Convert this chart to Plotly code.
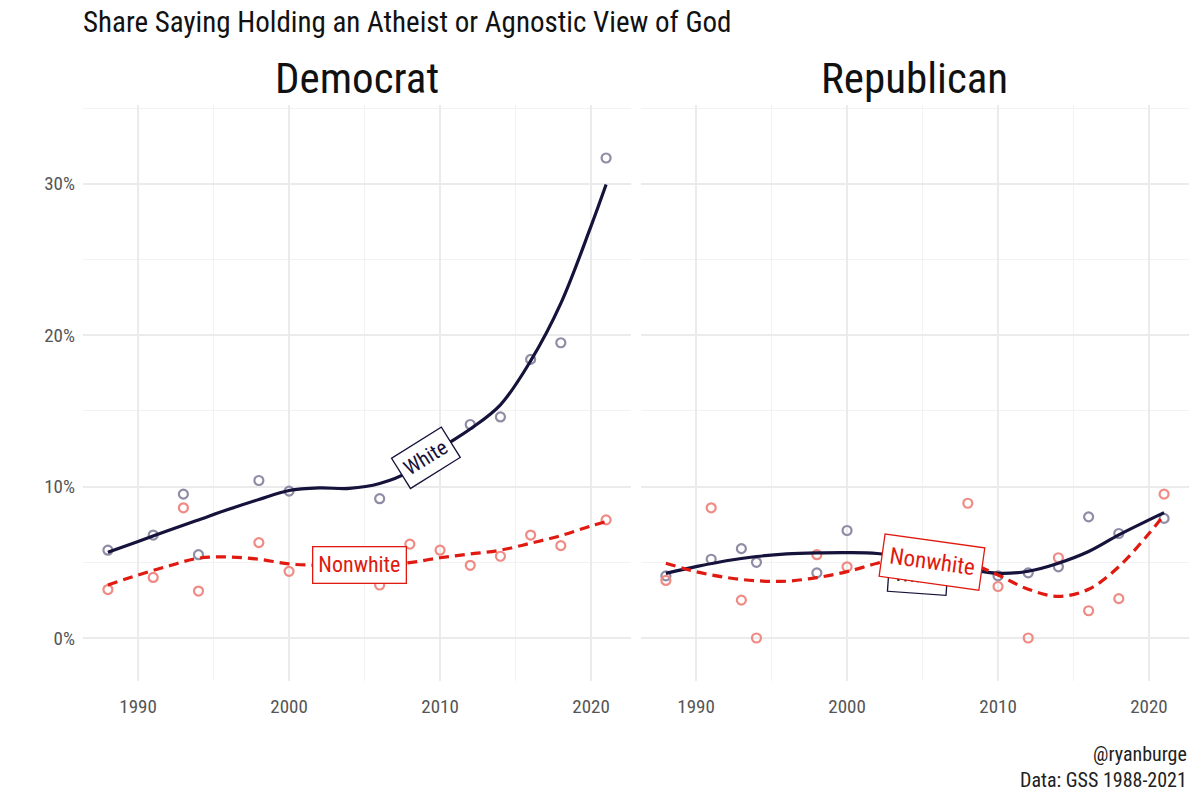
import plotly.graph_objects as go

FONT = "Liberation Sans Narrow, Arial Narrow, Roboto Condensed, DejaVu Sans Condensed, sans-serif"

NAVY = "#15123b"
RED = "#e01a10"
NAVY_PT = "#8f8ca6"
RED_PT = "#f08a84"

# ---- observed shares (%) ----
dem_white_years = [1988, 1991, 1993, 1994, 1998, 2000, 2006, 2008, 2010, 2012, 2014, 2016, 2018, 2021]
dem_white_vals = [5.8, 6.8, 9.5, 5.5, 10.4, 9.7, 9.2, 10.9, 12.0, 14.1, 14.6, 18.4, 19.5, 31.7]

dem_nonwhite_years = [1988, 1991, 1993, 1994, 1998, 2000, 2006, 2008, 2010, 2012, 2014, 2016, 2018, 2021]
dem_nonwhite_vals = [3.2, 4.0, 8.6, 3.1, 6.3, 4.4, 3.5, 6.2, 5.8, 4.8, 5.4, 6.8, 6.1, 7.8]

rep_white_years = [1988, 1991, 1993, 1994, 1998, 2000, 2006, 2008, 2010, 2012, 2014, 2016, 2018, 2021]
rep_white_vals = [4.1, 5.2, 5.9, 5.0, 4.3, 7.1, 5.0, 4.6, 4.1, 4.3, 4.7, 8.0, 6.9, 7.9]

rep_nonwhite_years = [1988, 1991, 1993, 1994, 1998, 2000, 2006, 2008, 2010, 2012, 2014, 2016, 2018, 2021]
rep_nonwhite_vals = [3.8, 8.6, 2.5, 0.0, 5.5, 4.7, 5.5, 8.9, 3.4, 0.0, 5.3, 1.8, 2.6, 9.5]

# ---- smoothed trend (%) ----
fit_years = [1988, 1990, 1992, 1994, 1996, 1998, 2000, 2002, 2004, 2006, 2008, 2010, 2012, 2014, 2016, 2018, 2020, 2021]
dem_white_fit = [5.66, 6.37, 7.1, 7.8, 8.5, 9.15, 9.74, 9.91, 9.88, 10.2, 11.0, 12.5, 13.8, 15.4, 18.3, 22.1, 27.2, 29.95]
dem_nonwhite_fit = [3.5, 4.16, 4.75, 5.27, 5.35, 5.2, 4.89, 4.8, 4.8, 4.85, 4.98, 5.3, 5.55, 5.8, 6.26, 6.76, 7.4, 7.69]
rep_white_fit = [4.27, 4.71, 5.1, 5.38, 5.55, 5.62, 5.64, 5.58, 5.3, 4.95, 4.55, 4.27, 4.41, 4.94, 5.71, 6.81, 7.8, 8.28]
rep_nonwhite_fit = [4.94, 4.38, 4.0, 3.78, 3.75, 3.99, 4.38, 4.94, 5.4, 5.5, 5.0, 4.16, 3.22, 2.75, 3.22, 4.71, 6.9, 8.13]

x_ticks = [1990, 2000, 2010, 2020]
y_ticks = [0, 0.1, 0.2, 0.3]

def pct(v):
    return [x / 100 for x in v]

fig = go.Figure()

panels = [
    ("x", "y", dem_white_years, dem_white_vals, dem_nonwhite_years, dem_nonwhite_vals, dem_white_fit, dem_nonwhite_fit),
    ("x2", "y2", rep_white_years, rep_white_vals, rep_nonwhite_years, rep_nonwhite_vals, rep_white_fit, rep_nonwhite_fit),
]

for xa, ya, wy, wv, ny, nv, wf, nf in panels:
    fig.add_trace(go.Scatter(x=wy, y=pct(wv), mode="markers", xaxis=xa, yaxis=ya,
                             marker=dict(symbol="circle-open", size=9, color=NAVY_PT, line=dict(width=2.2)),
                             showlegend=False, hoverinfo="skip"))
    fig.add_trace(go.Scatter(x=ny, y=pct(nv), mode="markers", xaxis=xa, yaxis=ya,
                             marker=dict(symbol="circle-open", size=9, color=RED_PT, line=dict(width=2.2)),
                             showlegend=False, hoverinfo="skip"))
    fig.add_trace(go.Scatter(x=fit_years, y=pct(wf), mode="lines", xaxis=xa, yaxis=ya,
                             line=dict(color=NAVY, width=3.2, shape="spline", smoothing=1.0),
                             showlegend=False, hoverinfo="skip"))
    fig.add_trace(go.Scatter(x=fit_years, y=pct(nf), mode="lines", xaxis=xa, yaxis=ya,
                             line=dict(color=RED, width=3.2, shape="spline", smoothing=1.0, dash="10px,6px"),
                             showlegend=False, hoverinfo="skip"))

grid_major = "#ebebeb"
grid_minor = "#f2f2f2"
TICKFONT = dict(family=FONT, size=19, color="#555555")

xcommon = dict(range=[1986.35, 2022.65], tickvals=x_ticks, showgrid=True, gridcolor=grid_major, gridwidth=1.6,
               zeroline=False, showline=False, ticks="",
               tickfont=TICKFONT, ticklabelstandoff=12,
               minor=dict(tickvals=[1995, 2005, 2015], showgrid=True, gridcolor=grid_minor, gridwidth=1.2))
ycommon = dict(range=[-0.0284, 0.352], tickvals=y_ticks, tickformat=".0%", showgrid=True, gridcolor=grid_major,
               gridwidth=1.6, zeroline=False, showline=False, ticks="",
               minor=dict(tickvals=[0.05, 0.15, 0.25, 0.35], showgrid=True, gridcolor=grid_minor, gridwidth=1.2))

fig.update_layout(
    width=1200, height=800,
    margin=dict(l=83, r=11, t=105, b=119),
    paper_bgcolor="white", plot_bgcolor="white",
    font=dict(family=FONT, color="#222222"),
    xaxis=dict(domain=[0, 0.4955], anchor="y", **xcommon),
    xaxis2=dict(domain=[0.5045, 1], anchor="y2", **xcommon),
    yaxis=dict(anchor="x", tickfont=TICKFONT, ticklabelstandoff=7, **ycommon),
    yaxis2=dict(anchor="x2", matches="y", showticklabels=False, **ycommon),
    title=dict(text="Share Saying Holding an Atheist or Agnostic View of God", x=83 / 1200, xanchor="left",
               y=1 - 22 / 800, yanchor="middle", font=dict(family=FONT, size=29, color="#111111")),
)

annotations = [
    dict(text="Democrat", xref="paper", yref="paper", x=0.4955 / 2, y=(681 - 78) / 576, xanchor="center",
         yanchor="middle", showarrow=False, font=dict(family=FONT, size=43, color="#111111")),
    dict(text="Republican", xref="paper", yref="paper", x=(0.5045 + 1) / 2, y=(681 - 78) / 576, xanchor="center",
         yanchor="middle", showarrow=False, font=dict(family=FONT, size=43, color="#111111")),
    dict(text="@ryanburge<br>Data: GSS 1988-2021", xref="paper", yref="paper", x=1, y=(681 - 767) / 576,
         xanchor="right", yanchor="middle", align="right", showarrow=False,
         font=dict(family=FONT, size=20, color="#222222")),
    # curve labels
    dict(text="White", xref="x", yref="y", x=2009.1, y=0.119, textangle=-32, showarrow=False,
         font=dict(family=FONT, size=21, color=NAVY), bgcolor="white", bordercolor=NAVY, borderwidth=1.3,
         borderpad=5),
    dict(text="Nonwhite", xref="x", yref="y", x=2004.64, y=0.0484, textangle=0, showarrow=False,
         font=dict(family=FONT, size=22, color=RED), bgcolor="white", bordercolor=RED, borderwidth=1.3,
         borderpad=5),
    dict(text="White", xref="x2", yref="y2", x=2004.7, y=0.0416, textangle=4, showarrow=False,
         font=dict(family=FONT, size=21, color=NAVY), bgcolor="white", bordercolor=NAVY, borderwidth=1.3,
         borderpad=5),
    dict(text="Nonwhite", xref="x2", yref="y2", x=2005.6, y=0.0504, textangle=8, showarrow=False,
         font=dict(family=FONT, size=23, color=RED), bgcolor="white", bordercolor=RED, borderwidth=1.3,
         borderpad=7),
]
fig.update_layout(annotations=annotations)

fig.write_html("out.html")
